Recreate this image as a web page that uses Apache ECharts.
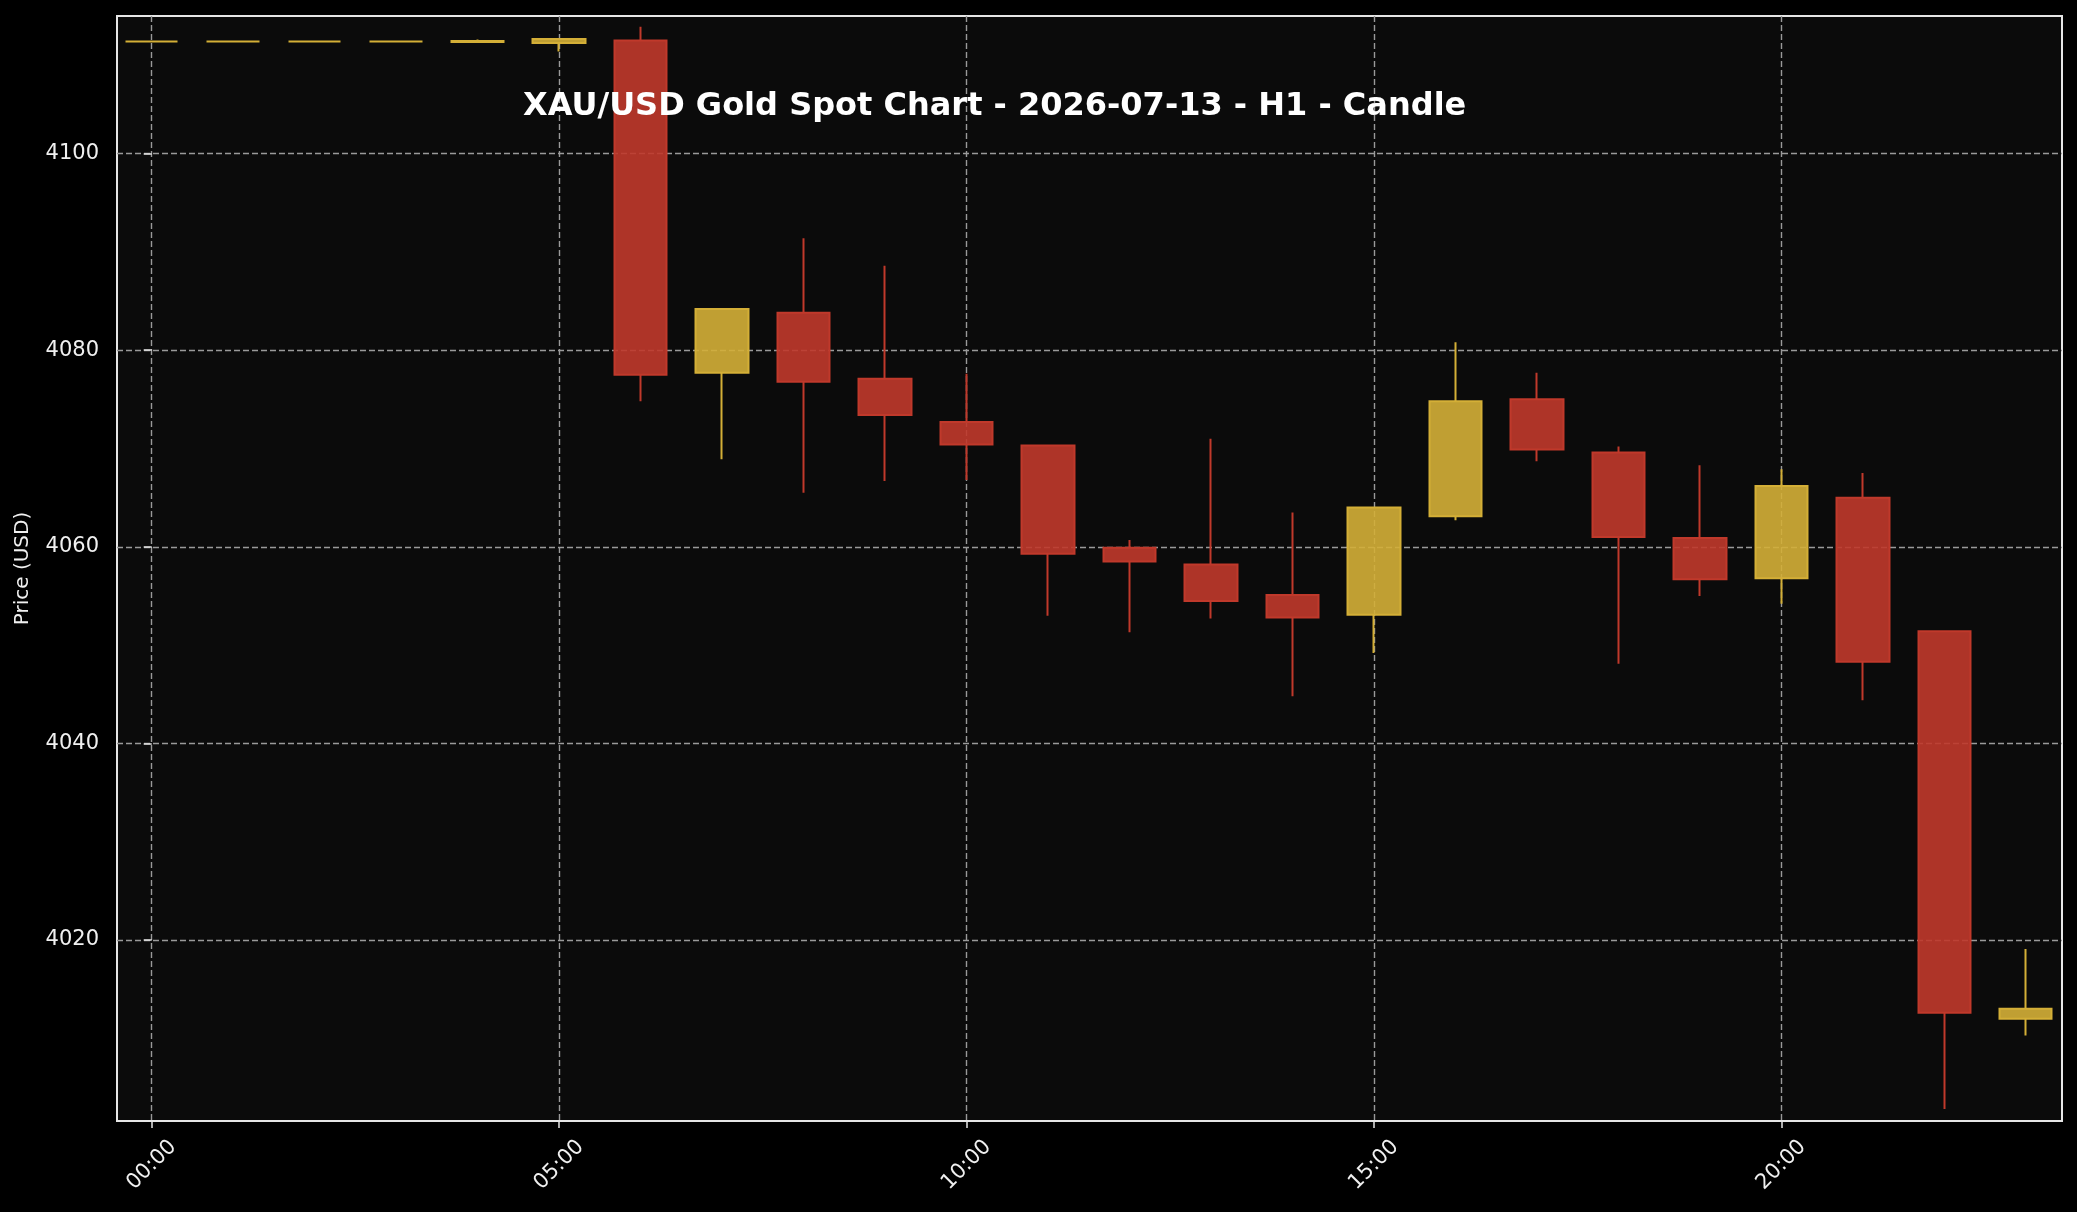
<!DOCTYPE html>
<html>
<head>
<meta charset="utf-8">
<title>XAU/USD H1</title>
<script src="https://cdn.jsdelivr.net/npm/echarts@6/dist/echarts.min.js"></script>
<style>
html,body{margin:0;padding:0;background:#000;}
#main{width:2077px;height:1212px;}
</style>
</head>
<body>
<div id="main"></div>
<script>
// hourly candles, 2026-07-13
var hours = [0,1,2,3,4,5,6,7,8,9,10,11,12,13,14,15,16,17,18,19,20,21,22,23];
var opens  = [4111.4,4111.4,4111.4,4111.4,4111.35,4111.25,4111.5,4077.7,4083.8,4077.1,4072.7,4070.3,4059.9,4058.2,4055.1,4053.1,4063.1,4075.0,4069.6,4060.9,4056.8,4065.0,4051.4,4012.0];
var closes = [4111.4,4111.4,4111.4,4111.4,4111.45,4111.65,4077.5,4084.2,4076.8,4073.4,4070.4,4059.3,4058.5,4054.5,4052.8,4064.0,4074.8,4069.9,4061.0,4056.7,4066.2,4048.3,4012.6,4013.0];
var lows   = [4111.4,4111.4,4111.4,4111.4,4111.35,4110.4,4074.8,4068.9,4065.5,4066.7,4066.8,4053.0,4051.3,4052.7,4044.8,4049.2,4062.7,4068.7,4048.1,4055.0,4054.2,4044.4,4002.8,4010.3];
var highs  = [4111.4,4111.4,4111.4,4111.4,4111.6,4111.65,4112.9,4084.3,4091.4,4088.6,4077.6,4070.4,4060.7,4071.0,4063.5,4064.1,4080.8,4077.7,4070.2,4068.3,4067.9,4067.5,4051.5,4019.1];
var xTicks = [0,5,10,15,20];
var yTicks = [4020,4040,4060,4080,4100];

var candles = [];
for (var i = 0; i < hours.length; i++) {
	candles.push([hours[i], opens[i], closes[i], lows[i], highs[i]]);
}

function pad2(n){ return (n < 10 ? '0' : '') + n; }

var chart = echarts.init(document.getElementById('main'));
var option = {
	animation: false,
	backgroundColor: '#000000',
	title: {
		text: 'XAU/USD Gold Spot Chart - 2026-07-13 - H1 - Candle',
		left: 523,
		top: 91,
		padding: 0,
		textStyle: {
			color: '#ffffff',
			fontFamily: 'DejaVu Sans',
			fontWeight: 'bold',
			fontSize: 32,
			lineHeight: 32
		}
	},
	grid: {
		left: 117,
		right: 15,
		top: 16,
		bottom: 91,
		containLabel: false,
		outerBoundsMode: 'none',
		show: true,
		backgroundColor: '#0b0b0b',
		borderColor: '#e6e6e6',
		borderWidth: 2
	},
	xAxis: {
		type: 'value',
		min: -0.426,
		max: 23.445,
		axisLine: { show: false },
		axisTick: {
			show: true,
			customValues: xTicks,
			length: 7,
			lineStyle: { color: '#e6e6e6', width: 1.5 }
		},
		axisLabel: {
			customValues: xTicks,
			rotate: 45,
			align: 'center',
			verticalAlign: 'middle',
			margin: 44,
			color: '#f0f0f0',
			fontFamily: 'DejaVu Sans',
			fontSize: 21,
			formatter: function (v) { return pad2(Math.round(v)) + ':00'; }
		},
		splitLine: {
			show: true,
			lineStyle: { color: '#9a9a9a', width: 1.4, type: [6, 3] }
		}
	},
	yAxis: {
		type: 'value',
		min: 4001.59,
		max: 4114.0,
		name: 'Price (USD)',
		nameLocation: 'middle',
		nameGap: 84,
		nameTextStyle: {
			color: '#f0f0f0',
			fontFamily: 'DejaVu Sans',
			fontSize: 20
		},
		axisLine: { show: false },
		axisTick: {
			show: true,
			customValues: yTicks,
			length: 8,
			lineStyle: { color: '#e6e6e6', width: 1.5 }
		},
		axisLabel: {
			customValues: yTicks,
			margin: 18,
			color: '#f0f0f0',
			fontFamily: 'DejaVu Sans',
			fontSize: 21,
			formatter: function (v) { return String(Math.round(v)); }
		},
		splitLine: {
			show: true,
			lineStyle: { color: '#9a9a9a', width: 1.4, type: [6, 3] }
		}
	},
	series: [
		{
			name: 'XAU/USD',
			type: 'candlestick',
			barWidth: 53,
			encode: { x: 0, y: [1, 2, 3, 4] },
			itemStyle: {
				color: 'rgba(212,175,55,0.9)',
				color0: 'rgba(192,57,43,0.9)',
				borderColor: '#D4AF37',
				borderColor0: '#C0392B',
				borderWidth: 2
			},
			data: candles
		}
	]
};
chart.setOption(option);
</script>
</body>
</html>
